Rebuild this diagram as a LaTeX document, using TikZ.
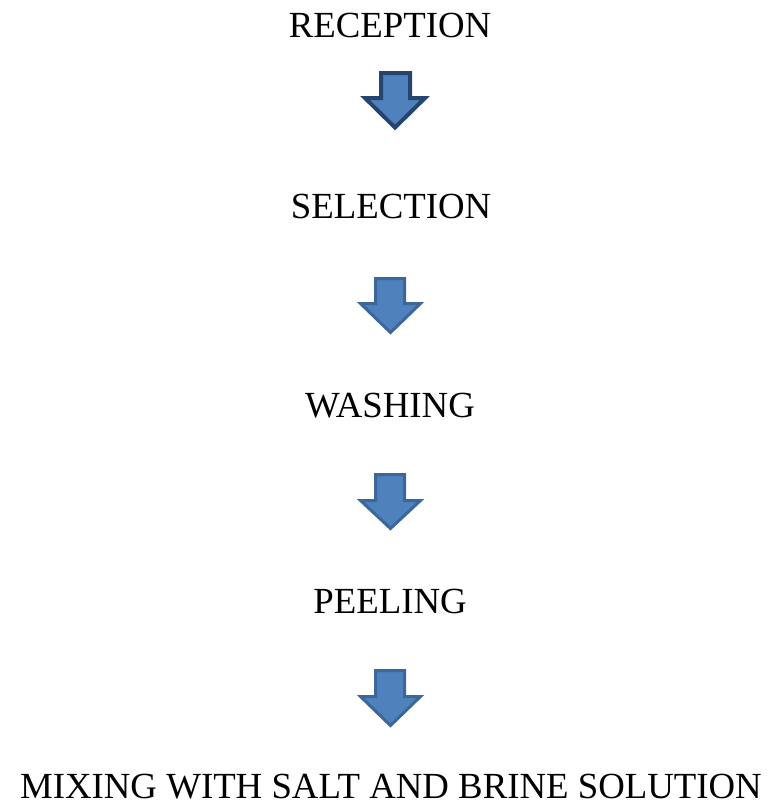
\documentclass[tikz,border=0pt]{standalone}
\usepackage{fontspec}
\setmainfont{Liberation Serif}
\definecolor{arrfill}{HTML}{4F81BD}
\definecolor{arredge}{HTML}{3C679A}
\definecolor{arredgedark}{HTML}{26456E}
\begin{document}
\begin{tikzpicture}[x=1pt,y=-1pt,
  step label/.style={anchor=base,inner sep=0pt,font=\fontsize{36.8}{40}\selectfont},
  blockarrow/.style={fill=arrfill,draw=arredge,line width=3pt,line join=miter},
  blockarrowdark/.style={fill=arrfill,draw=arredgedark,line width=4pt,line join=miter}]
\useasboundingbox (0,0) rectangle (769,812);
\node[step label] (reception) at (390,37) {RECEPTION};
\node[step label] (selection) at (391,218) {SELECTION};
\node[step label] (washing) at (390,417) {WASHING};
\node[step label] (peeling) at (390,613) {PEELING};
\node[step label] (mixing) at (391,798) {MIXING WITH SALT AND BRINE SOLUTION};
% arrow 1
\draw[blockarrowdark] (381,73) -- (410,73) -- (410,98) -- (425,98) -- (395,127.5) -- (365,98) -- (381,98) -- cycle;
% arrow 2
\draw[blockarrow] (375.5,278.5) -- (404.5,278.5) -- (404.5,303.5) -- (420.5,303.5) -- (390.5,332.5) -- (360.5,303.5) -- (375.5,303.5) -- cycle;
% arrow 3
\draw[blockarrow] (375.5,474.5) -- (404.5,474.5) -- (404.5,500.5) -- (420.5,500.5) -- (390.5,528.5) -- (360.5,500.5) -- (375.5,500.5) -- cycle;
% arrow 4
\draw[blockarrow] (375.5,670.5) -- (404.5,670.5) -- (404.5,696.5) -- (420.5,696.5) -- (390.5,725.5) -- (360.5,696.5) -- (375.5,696.5) -- cycle;
\end{tikzpicture}
\end{document}
